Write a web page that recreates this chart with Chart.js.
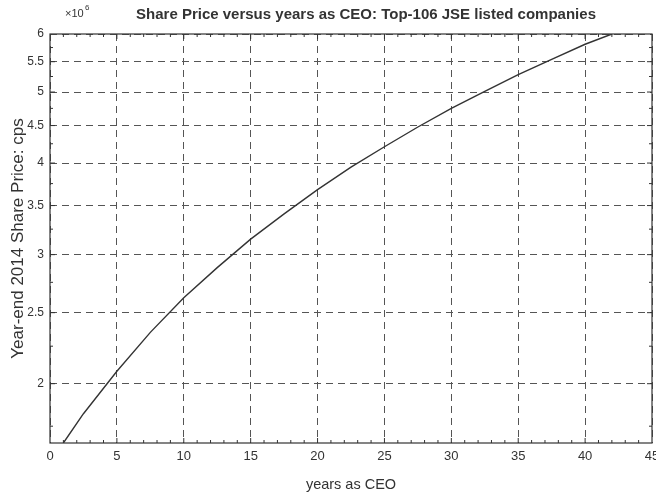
<!DOCTYPE html>
<html>
<head>
<meta charset="utf-8">
<script src="https://cdn.jsdelivr.net/npm/chart.js@4.4.1/dist/chart.umd.min.js"></script>
<style>
  html, body { margin: 0; padding: 0; background: #fff; }
  #wrap { width: 656px; height: 496px; }
</style>
</head>
<body>
<div id="wrap"><canvas id="chart"></canvas></div>
<script>
// values (share price in cps)
const years = [1, 2.5, 5, 7.5, 10, 12.5, 15, 17.5, 20, 22.5, 25, 27.5, 30, 32.5, 35, 37.5, 40, 42];
const sharePrice = [1.66e6, 1.82e6, 2.08e6, 2.35e6, 2.62e6, 2.88e6, 3.15e6, 3.41e6, 3.68e6, 3.95e6,
                    4.21e6, 4.48e6, 4.75e6, 5.01e6, 5.28e6, 5.54e6, 5.81e6, 6.0e6];
const xTicks = [0, 5, 10, 15, 20, 25, 30, 35, 40, 45];
const yTicks = [2e6, 2.5e6, 3e6, 3.5e6, 4e6, 4.5e6, 5e6, 5.5e6, 6e6];
const yMin = 1.66e6;
const titleText = 'Share Price versus years as CEO: Top-106 JSE listed companies';

const FONT = "'Liberation Sans', Arial, sans-serif";
const INK = '#333';

// box round the axes, inward tick marks, the title and the x10^6 exponent
const boxPlugin = {
    id: 'box',
    afterDraw(chart) {
        const { ctx, chartArea: a } = chart;
        const xs = chart.scales.x, ys = chart.scales.y;
        ctx.save();
        ctx.strokeStyle = INK;
        ctx.lineWidth = 1.2;
        ctx.strokeRect(a.left, a.top, a.right - a.left, a.bottom - a.top);
        ctx.lineWidth = 1;
        ctx.beginPath();
        for (let v = 1; v < 45; v++) {
            const px = xs.getPixelForValue(v);
            const len = v % 5 === 0 ? 5 : 3;
            ctx.moveTo(px, a.bottom); ctx.lineTo(px, a.bottom - len);
            ctx.moveTo(px, a.top); ctx.lineTo(px, a.top + len);
        }
        for (let v = 1.75e6; v < 6e6; v += 0.25e6) {
            const py = ys.getPixelForValue(v);
            const len = Math.round(v / 1e5) % 5 === 0 ? 5 : 3;
            ctx.moveTo(a.left, py); ctx.lineTo(a.left + len, py);
            ctx.moveTo(a.right, py); ctx.lineTo(a.right - len, py);
        }
        ctx.stroke();
        ctx.fillStyle = INK;
        ctx.textBaseline = 'alphabetic';
        ctx.textAlign = 'center';
        ctx.font = 'bold 15px ' + FONT;
        ctx.fillText(titleText, (a.left + a.right) / 2 + 15, a.top - 15);
        ctx.textAlign = 'left';
        ctx.font = '11px ' + FONT;
        ctx.fillText('\u00d710', a.left + 15, a.top - 17);
        ctx.font = '8px ' + FONT;
        ctx.fillText('6', a.left + 35, a.top - 24);
        ctx.restore();
    }
};

new Chart(document.getElementById('chart'), {
    type: 'line',
    data: {
        datasets: [{
            label: 'fit',
            data: years.map((x, i) => ({ x: x, y: sharePrice[i] })),
            borderColor: '#333',
            borderWidth: 1.4,
            pointRadius: 0,
            fill: false,
            tension: 0
        }]
    },
    options: {
        responsive: true,
        maintainAspectRatio: false,
        animation: false,
        layout: { padding: { left: 0, right: 4, top: 34, bottom: 0 } },
        plugins: {
            legend: { display: false },
            tooltip: { enabled: false },
            title: { display: false }
        },
        scales: {
            x: {
                type: 'linear',
                min: 0,
                max: 45,
                afterBuildTicks: s => { s.ticks = xTicks.map(v => ({ value: v })); },
                afterFit: s => { s.height = 53; s.paddingLeft = 0; s.paddingRight = 0; },
                ticks: { color: INK, font: { family: FONT, size: 13 }, padding: 6, maxRotation: 0 },
                grid: { color: '#555', lineWidth: 1, drawTicks: false },
                border: { display: false, dash: [7, 5] },
                title: {
                    display: true,
                    text: 'years as CEO',
                    color: INK,
                    font: { family: FONT, size: 14.5 },
                    padding: { top: 0, bottom: 2 }
                }
            },
            y: {
                type: 'logarithmic',
                min: yMin,
                max: 6e6,
                afterBuildTicks: s => { s.ticks = yTicks.map(v => ({ value: v })); },
                afterFit: s => { s.width = 50; s.paddingTop = 0; s.paddingBottom = 0; },
                ticks: {
                    color: INK,
                    font: { family: FONT, size: 12 },
                    padding: 6,
                    callback: v => String(v / 1e6)
                },
                grid: { color: '#555', lineWidth: 1, drawTicks: false },
                border: { display: false, dash: [7, 5] },
                title: {
                    display: true,
                    text: 'Year-end 2014 Share Price: cps',
                    color: INK,
                    font: { family: FONT, size: 17 },
                    padding: { top: 8, bottom: 0 }
                }
            }
        }
    },
    plugins: [boxPlugin]
});
</script>
</body>
</html>
